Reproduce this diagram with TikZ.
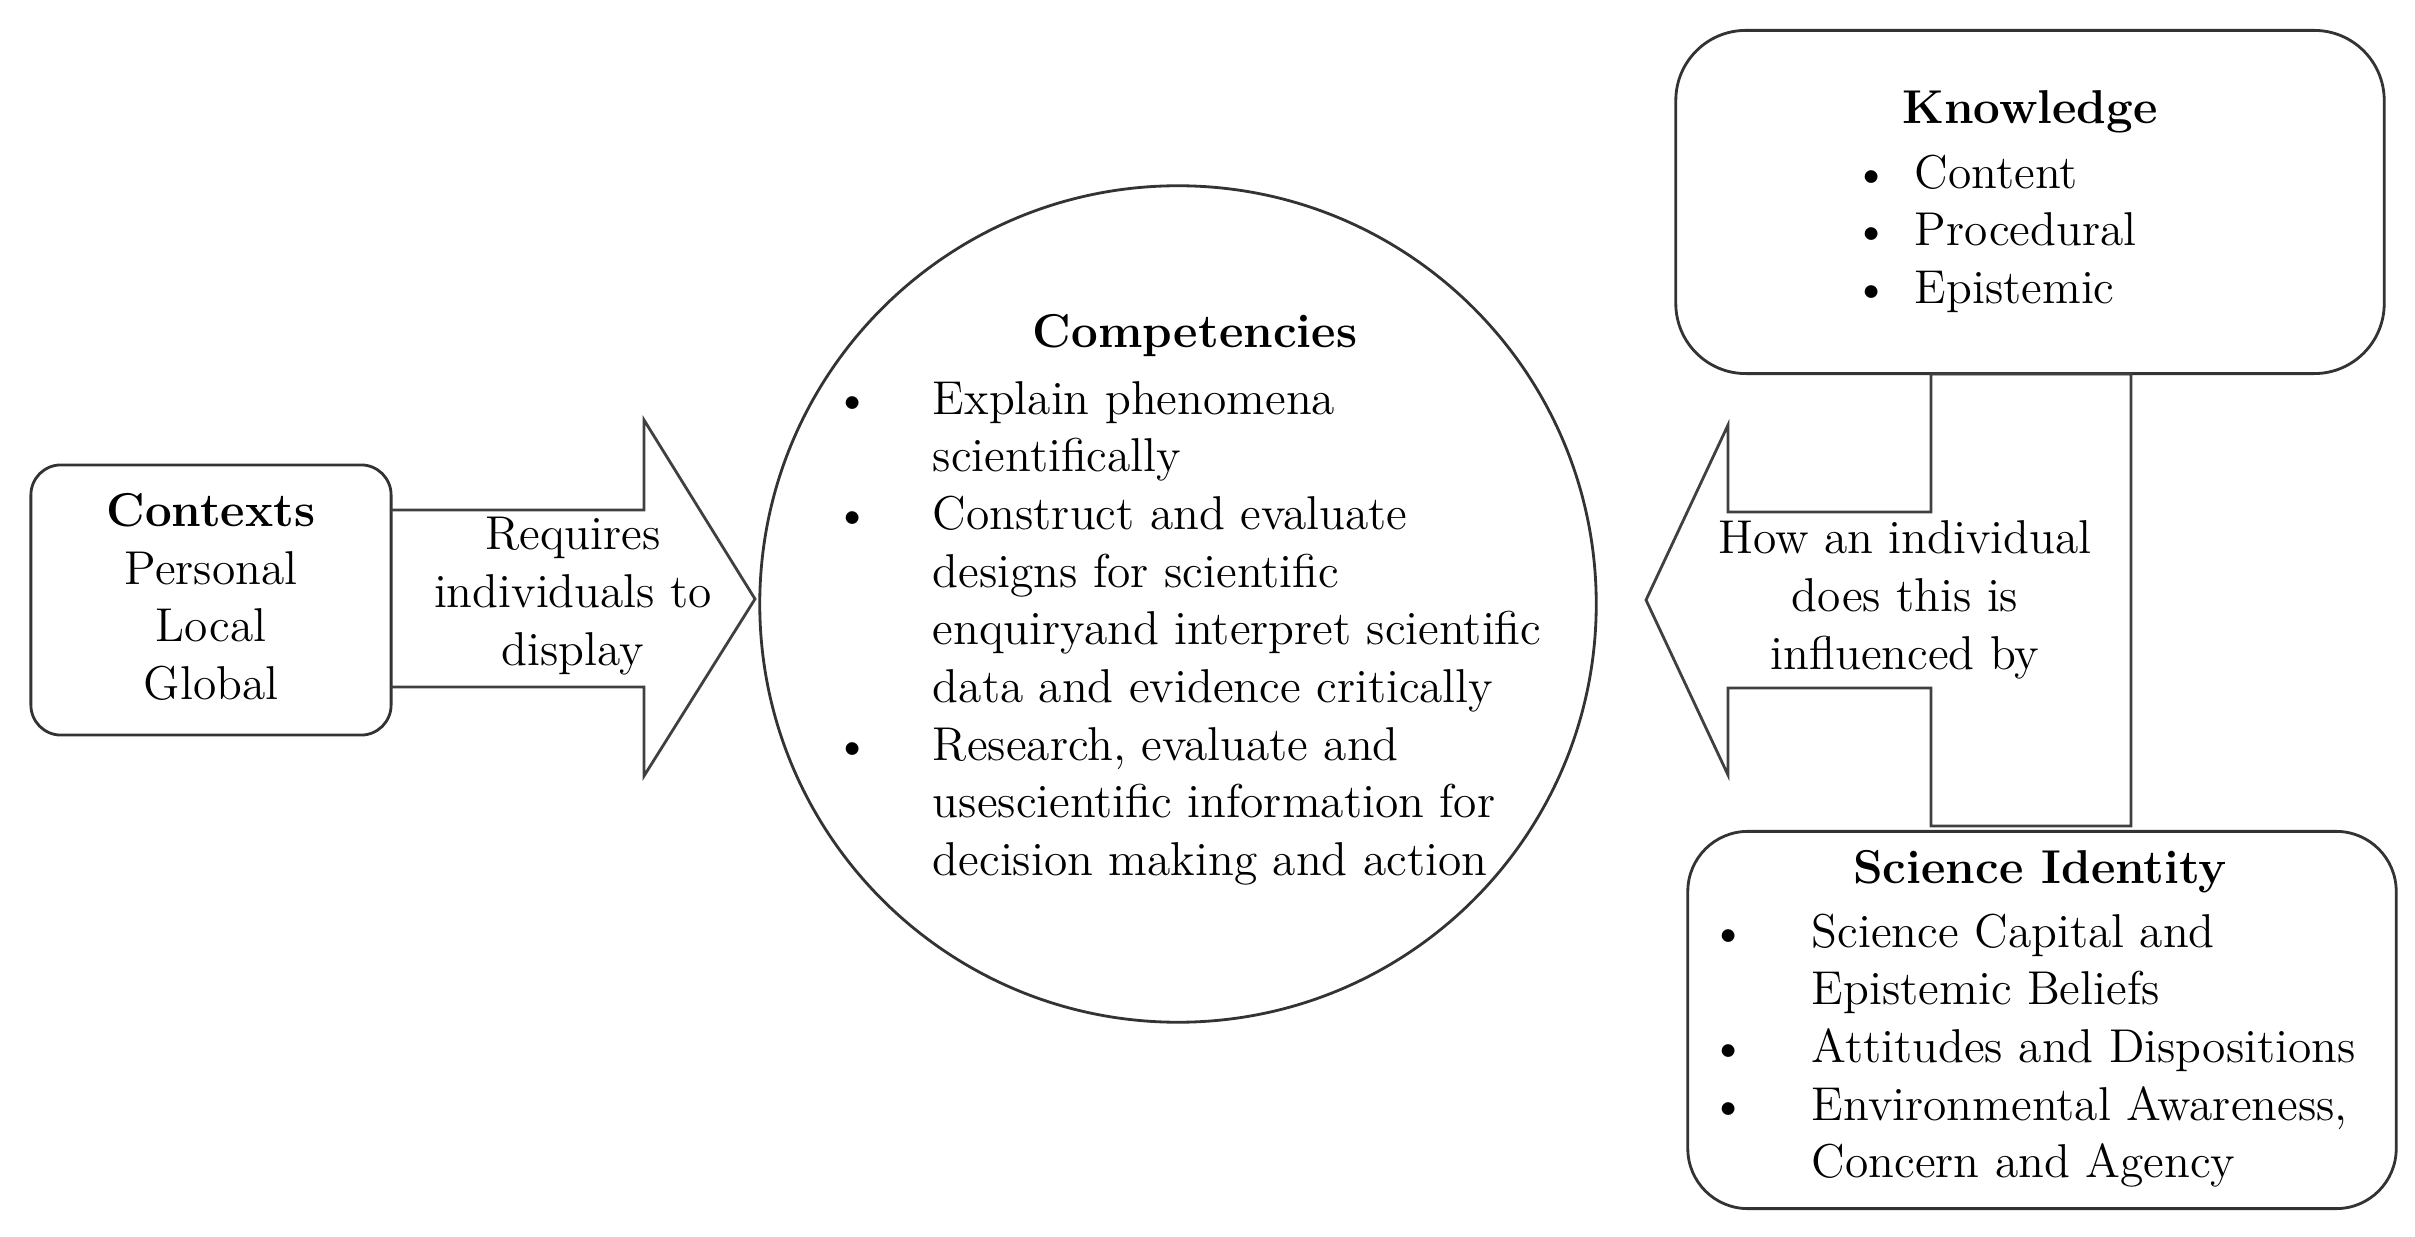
\documentclass[tikz,border=0pt]{standalone}
\usepackage{tikz}
\usetikzlibrary{positioning}
\begin{document}
\begin{tikzpicture}[x=0.01cm, y=-0.01cm,
		boxnode/.style={rectangle, rounded corners=0.3cm, draw=black!80, thick},
		textnode/.style={inner sep=0pt, align=center, font=\fontsize{13.5}{16.4}\selectfont},
		listnode/.style={inner sep=0pt, anchor=north west, font=\fontsize{13.5}{16.4}\selectfont},
		arrowshape/.style={draw=black!75, thick, line join=miter},
	]
	\useasboundingbox (0,0) rectangle (2415,1237);
	% boxes and circle
	\node[boxnode, minimum width=3.6cm, minimum height=2.7cm] (contexts) at (211,600) {};
	\node[circle, draw=black!80, thick, minimum size=8.36cm] (comp) at (1178,604) {};
	\node[boxnode, rounded corners=0.7cm, minimum width=7.08cm, minimum height=3.43cm] (knowledge) at (2030,202) {};
	\node[boxnode, rounded corners=0.6cm, minimum width=7.08cm, minimum height=3.77cm] (identity) at (2042,1020) {};
	% arrows
	\draw[arrowshape] (391,510) -- (644,510) -- (644,420) -- (755,599) -- (644,776) -- (644,687) -- (391,687);
	\draw[arrowshape] (1646,600) -- (1728,425) -- (1728,512) -- (1931,512) -- (1931,374) -- (2131,374)
		-- (2131,826) -- (1931,826) -- (1931,688) -- (1728,688) -- (1728,775) -- cycle;
	% texts
	\node[textnode] (ctxtext) at (211,597) {\textbf{Contexts}\\Personal\\Local\\Global};
	\node[textnode] (reqtext) at (573,596) {Requires\\individuals to\\display};
	\node[textnode] (howtext) at (1905,600) {How an individual\\does this is\\influenced by};
	\node[textnode] (comptitle) at (1195,336) {\textbf{Competencies}};
	\node[listnode] (complist) at (834,373) {%
		\begin{tabular}{@{}l@{\hspace{0.62cm}}l@{}}
			\textbullet & Explain phenomena\\
			& scientifically\\
			\textbullet & Construct and evaluate\\
			& designs for scientific\\
			& enquiryand interpret scientific\\
			& data and evidence critically\\
			\textbullet & Research, evaluate and\\
			& usescientific information for\\
			& decision making and action
		\end{tabular}};
	\node[textnode] (knowtitle) at (2030,112) {\textbf{Knowledge}};
	\node[listnode] (knowlist) at (1853,147) {%
		\begin{tabular}{@{}l@{\hspace{0.25cm}}l@{}}
			\textbullet & Content\\
			\textbullet & Procedural\\
			\textbullet & Epistemic
		\end{tabular}};
	\node[textnode] (idtitle) at (2040,872) {\textbf{Science Identity}};
	\node[listnode] (idlist) at (1710,906) {%
		\begin{tabular}{@{}l@{\hspace{0.65cm}}l@{}}
			\textbullet & Science Capital and\\
			& Epistemic Beliefs\\
			\textbullet & Attitudes and Dispositions\\
			\textbullet & Environmental Awareness,\\
			& Concern and Agency
		\end{tabular}};
\end{tikzpicture}
\end{document}
